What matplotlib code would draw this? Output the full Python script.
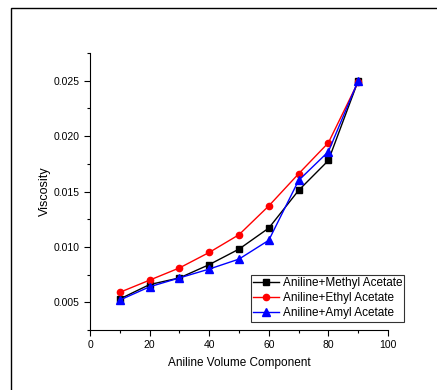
import matplotlib
matplotlib.use('Agg')
from matplotlib import pyplot as plt
from matplotlib.patches import Rectangle
from matplotlib.ticker import MultipleLocator

plt.rcParams['font.family'] = ['Liberation Sans', 'DejaVu Sans']

# Data
volume = [10, 20, 30, 40, 50, 60, 70, 80, 90]
methyl = [0.0053, 0.0066, 0.0072, 0.0084, 0.0098, 0.0117, 0.0151, 0.0178, 0.0250]
ethyl = [0.0059, 0.0070, 0.0081, 0.0095, 0.0111, 0.0137, 0.0166, 0.0194, 0.0249]
amyl = [0.0052, 0.0064, 0.0072, 0.0080, 0.0089, 0.0106, 0.0160, 0.0186, 0.0250]
labels = ['Aniline+Methyl Acetate', 'Aniline+Ethyl Acetate', 'Aniline+Amyl Acetate']

fig = plt.figure(figsize=(4.37, 3.9), dpi=100)

# Outer frame around the figure (open to the right and bottom)
fig.patches.append(Rectangle((11 / 437, -0.1), 1.2, (390 - 8) / 390 + 0.1,
                             transform=fig.transFigure, fill=False,
                             edgecolor='black', linewidth=1.0))

ax = fig.add_axes([90 / 437, 1 - 330 / 390, (388 - 90) / 437, (330 - 53) / 390])

ax.plot(volume, methyl, color='black', marker='s', markersize=4.5, linewidth=1, label=labels[0])
ax.plot(volume, ethyl, color='red', marker='o', markersize=4.5, linewidth=1, label=labels[1])
ax.plot(volume, amyl, color='blue', marker='^', markersize=5.5, linewidth=1, label=labels[2])

ax.set_xlim(0, 100)
ax.set_ylim(0.0025, 0.0275)
ax.xaxis.set_major_locator(MultipleLocator(20))
ax.xaxis.set_minor_locator(MultipleLocator(10))
ax.yaxis.set_major_locator(MultipleLocator(0.005))
ax.yaxis.set_minor_locator(MultipleLocator(0.0025))
ax.yaxis.set_major_formatter(plt.FuncFormatter(lambda v, p: f'{v:.3f}'))
ax.tick_params(which='major', direction='out', length=4, width=0.8, labelsize=7.5, colors='black')
ax.tick_params(which='minor', direction='out', length=2.5, width=0.8)
ax.spines['top'].set_visible(False)
ax.spines['right'].set_visible(False)

ax.set_xlabel('Aniline Volume Component', fontsize=8.5, labelpad=5)
ax.set_ylabel('Viscosity', fontsize=9, labelpad=2)

leg = ax.legend(loc='lower right', bbox_to_anchor=(1.055, 0.03), fontsize=8.5,
                frameon=True, fancybox=False, edgecolor='black', handlelength=2.2,
                borderpad=0.2, labelspacing=0.25, handletextpad=0.3, borderaxespad=0)
leg.get_frame().set_linewidth(0.8)

fig.savefig('out.png', dpi=100)
